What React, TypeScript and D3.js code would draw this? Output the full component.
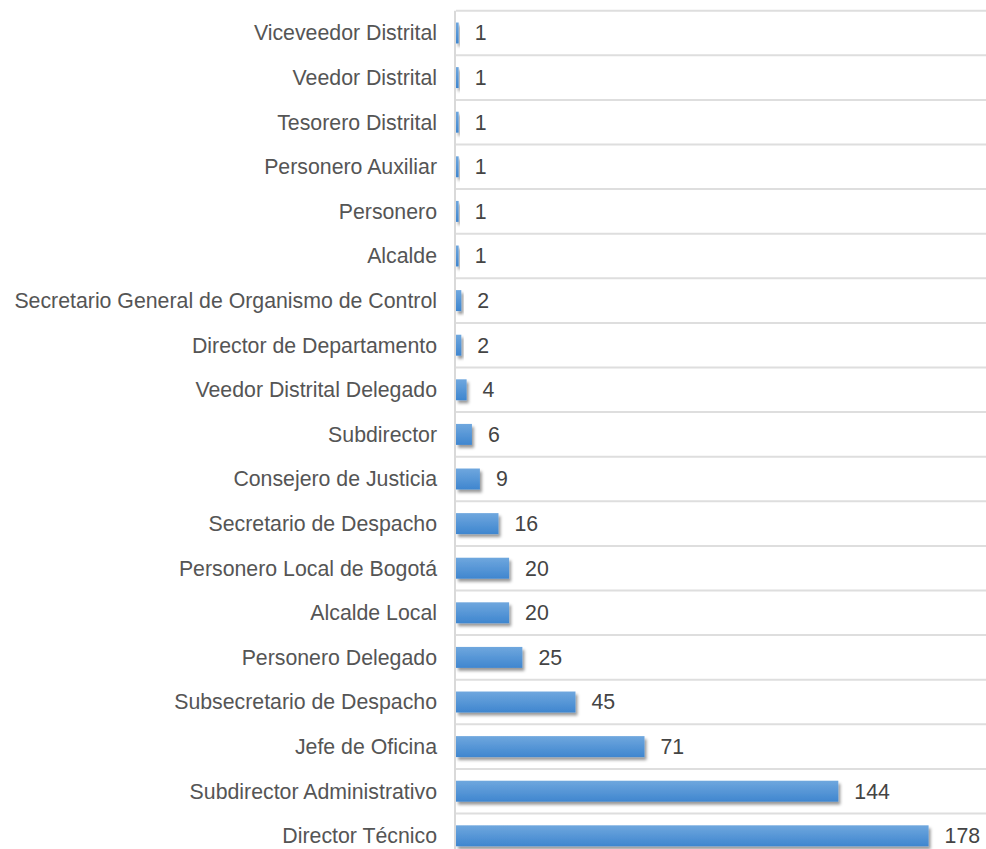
import React, { useEffect, useRef } from 'react';
import * as d3 from 'd3';

const categories = [
  'Viceveedor Distrital',
  'Veedor Distrital',
  'Tesorero Distrital',
  'Personero Auxiliar',
  'Personero',
  'Alcalde',
  'Secretario General de Organismo de Control',
  'Director de Departamento',
  'Veedor Distrital Delegado',
  'Subdirector',
  'Consejero de Justicia',
  'Secretario de Despacho',
  'Personero Local de Bogotá',
  'Alcalde Local',
  'Personero Delegado',
  'Subsecretario de Despacho',
  'Jefe de Oficina',
  'Subdirector Administrativo',
  'Director Técnico',
];

const values = [1, 1, 1, 1, 1, 1, 2, 2, 4, 6, 9, 16, 20, 20, 25, 45, 71, 144, 178];

const xDomain = [0, 200];

const App: React.FC = () => {
  const ref = useRef<SVGSVGElement>(null);

  useEffect(() => {
    const width = 986;
    const height = 849;
    const left = 456;
    const top = 10.7;
    const bandH = 44.6;
    const font = 'Liberation Sans, Arial, sans-serif';

    const svg = d3.select(ref.current);
    svg.selectAll('*').remove();
    svg.attr('width', width).attr('height', height);

    const defs = svg.append('defs');
    const grad = defs.append('linearGradient')
      .attr('id', 'barGrad')
      .attr('x1', 0).attr('y1', 0).attr('x2', 0).attr('y2', 1);
    grad.append('stop').attr('offset', '0%').attr('stop-color', '#6fa7de');
    grad.append('stop').attr('offset', '100%').attr('stop-color', '#3f86cf');

    const filter = defs.append('filter')
      .attr('id', 'shadow')
      .attr('x', '-50%').attr('y', '-50%')
      .attr('width', '200%').attr('height', '200%');
    filter.append('feDropShadow')
      .attr('dx', 2).attr('dy', 3)
      .attr('stdDeviation', 1.8)
      .attr('flood-color', '#000')
      .attr('flood-opacity', 0.4);

    const x = d3.scaleLinear().domain(xDomain).range([left, left + 531]);
    const y = d3.scaleBand<string>()
      .domain(categories)
      .range([top, top + bandH * categories.length])
      .paddingInner(0.53)
      .paddingOuter(0.265);

    const step = y.step();
    const boundaries = d3.range(categories.length + 1).map(i => top + i * step);

    // gridlines between categories
    svg.append('g')
      .selectAll('line')
      .data(boundaries)
      .enter().append('line')
      .attr('x1', left)
      .attr('x2', width)
      .attr('y1', d => d)
      .attr('y2', d => d)
      .attr('stroke', '#dedede')
      .attr('stroke-width', 2);

    // bars
    svg.append('g')
      .selectAll('rect')
      .data(values)
      .enter().append('rect')
      .attr('x', x(0))
      .attr('y', (d, i) => y(categories[i])!)
      .attr('width', d => x(d) - x(0))
      .attr('height', y.bandwidth())
      .attr('fill', 'url(#barGrad)')
      .attr('filter', 'url(#shadow)');

    // vertical axis
    svg.append('line')
      .attr('x1', left - 1).attr('x2', left - 1)
      .attr('y1', top).attr('y2', height)
      .attr('stroke', '#d9d9d9')
      .attr('stroke-width', 2);

    // category labels
    svg.append('g')
      .selectAll('text')
      .data(categories)
      .enter().append('text')
      .attr('x', left - 19)
      .attr('y', d => y(d)! + y.bandwidth() / 2)
      .attr('dy', '0.35em')
      .attr('text-anchor', 'end')
      .style('font-family', font)
      .style('font-size', '21.3px')
      .attr('fill', '#555555')
      .text(d => d);

    // value labels
    svg.append('g')
      .selectAll('text')
      .data(values)
      .enter().append('text')
      .attr('x', d => x(d) + 16)
      .attr('y', (d, i) => y(categories[i])! + y.bandwidth() / 2)
      .attr('dy', '0.35em')
      .attr('text-anchor', 'start')
      .style('font-family', font)
      .style('font-size', '21.3px')
      .attr('fill', '#444444')
      .text(d => d);
  }, []);

  return (
    <svg ref={ref} style={{ position: 'absolute', left: 0, top: 0, display: 'block' }}></svg>
  );
};

export default App;
